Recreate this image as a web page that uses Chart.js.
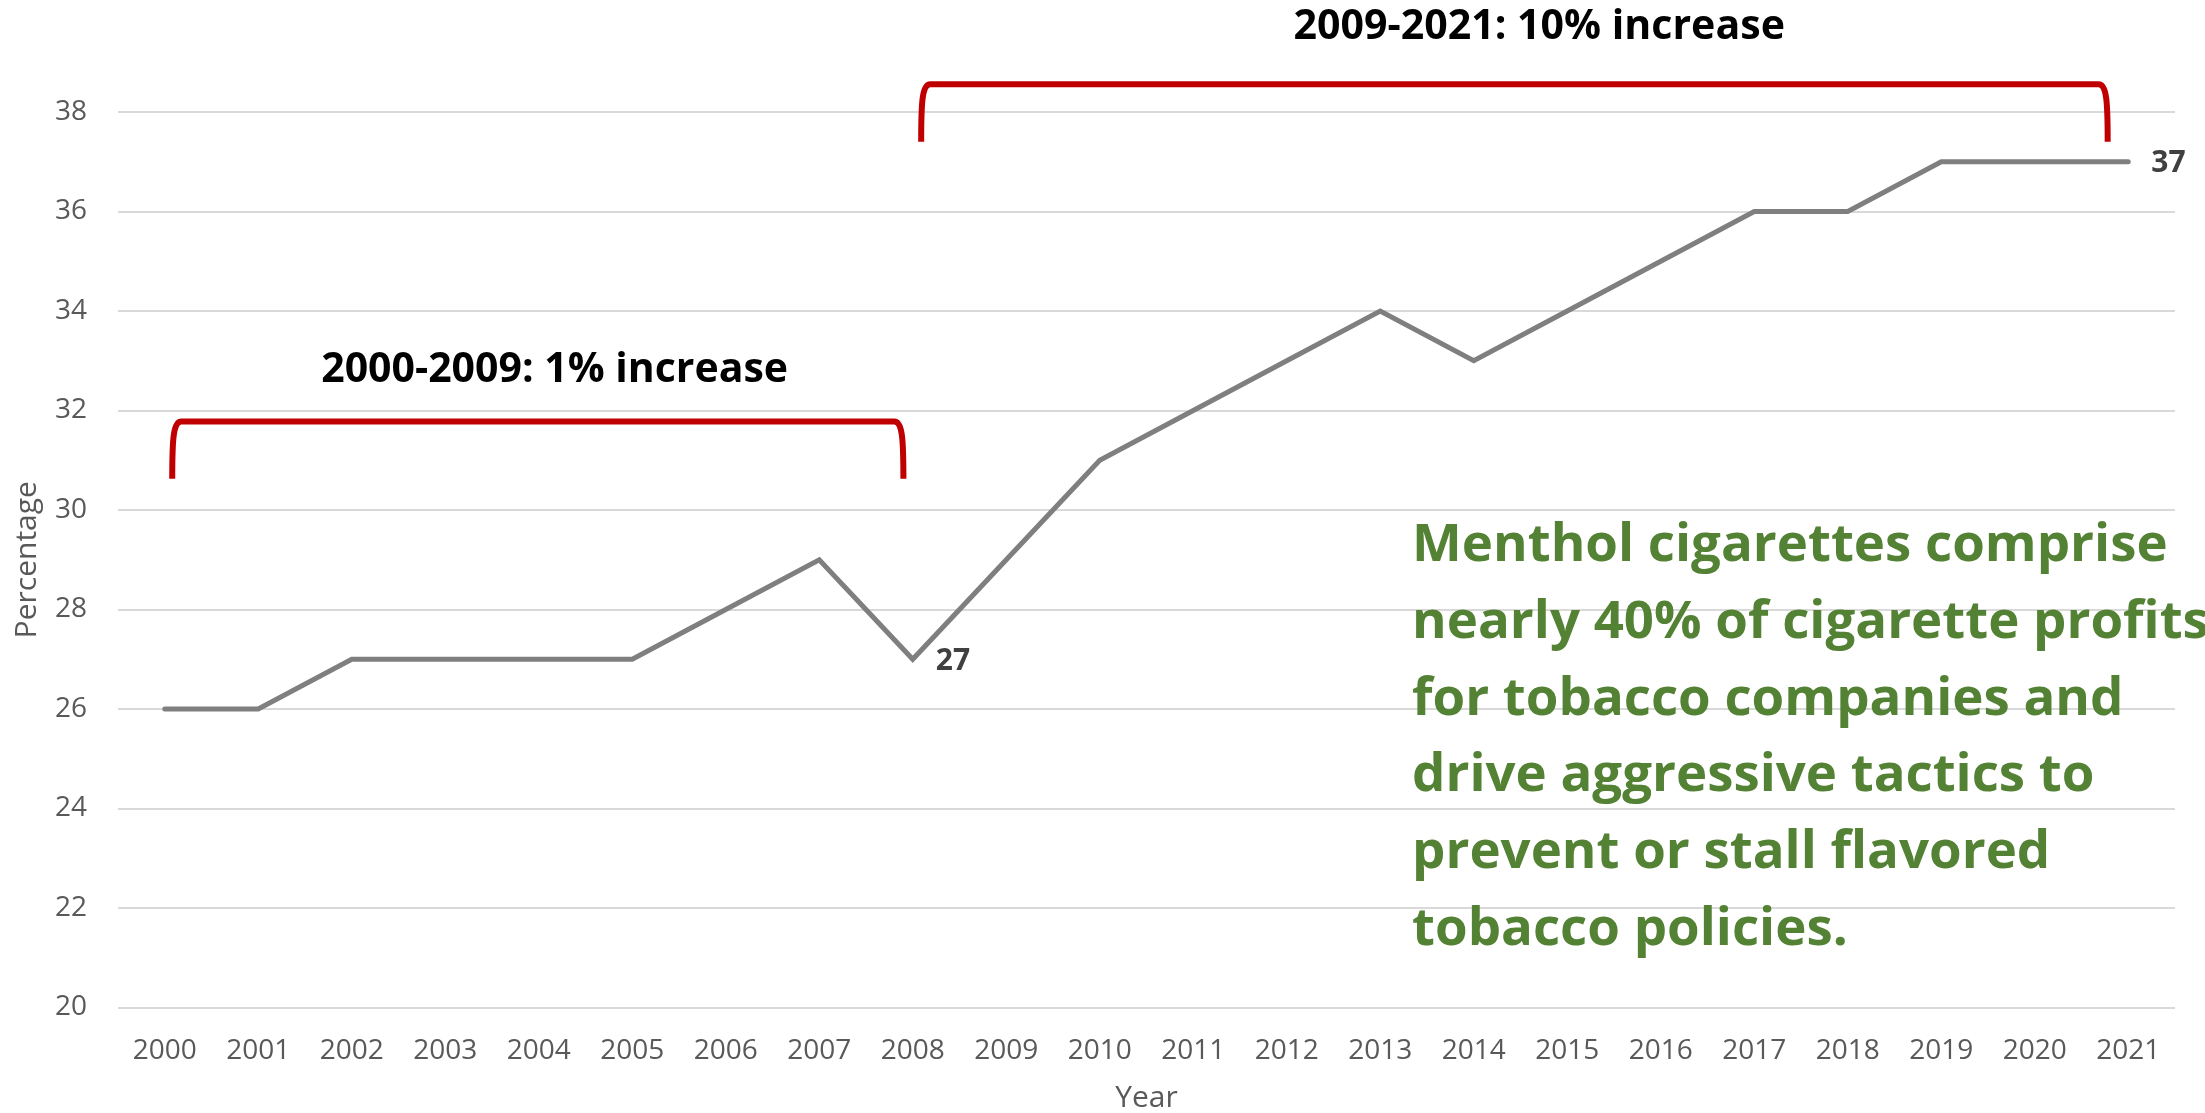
<!DOCTYPE html>
<html>
<head>
<meta charset="utf-8">
<script src="https://cdn.jsdelivr.net/npm/chart.js@4.4.1/dist/chart.umd.min.js"></script>
<style>
	html, body { margin: 0; padding: 0; background: #ffffff; }
	#wrap { width: 2205px; height: 1113px; position: relative; }
</style>
</head>
<body>
<div id="wrap"><canvas id="mycanvas"></canvas></div>
<script>
// data
var years = ["2000","2001","2002","2003","2004","2005","2006","2007","2008","2009","2010",
	"2011","2012","2013","2014","2015","2016","2017","2018","2019","2020","2021"];
var menthol = [26, 26, 27, 27, 27, 27, 28, 29, 27, 29, 31, 32, 33, 34, 33, 34, 35, 36, 36, 37, 37, 37];
var labelledPoints = [8, 21];
var yTicks = [20, 22, 24, 26, 28, 30, 32, 34, 36, 38];

var bracketTexts = ["2000-2009: 1% increase", "2009-2021: 10% increase"];
var noteLines = [
	"Menthol cigarettes comprise",
	"nearly 40% of cigarette profits",
	"for tobacco companies and",
	"drive aggressive tactics to",
	"prevent or stall flavored",
	"tobacco policies."
];

var FONT = "'Open Sans', 'Noto Sans', sans-serif";

// brackets placed in axis units (category index / percentage)
var brackets = [
	{ from: 0.08, to: 7.9, top: 31.78, bottom: 30.63, textX: 4.17, textY: 32.8, textW: 467, text: bracketTexts[0] },
	{ from: 8.09, to: 20.78, top: 38.56, bottom: 37.4, textX: 14.7, textY: 39.7, textW: 492, text: bracketTexts[1] }
];

function fitSize(ctx, text, weight, width) {
	ctx.font = weight + " 100px " + FONT;
	return 100 * width / ctx.measureText(text).width;
}

var annotate = {
	id: 'annotate',
	afterDatasetsDraw: function(chart) {
		var ctx = chart.ctx;
		var x = chart.scales.x, y = chart.scales.y;
		var meta = chart.getDatasetMeta(0);

		ctx.save();
		// point labels
		ctx.fillStyle = "#404040";
		ctx.font = "bold 30px " + FONT;
		ctx.textAlign = "left";
		ctx.textBaseline = "middle";
		labelledPoints.forEach(function(i) {
			var p = meta.data[i];
			ctx.fillText(String(menthol[i]), p.x + 23, p.y + 2);
		});

		// red brackets
		ctx.strokeStyle = "#c00000";
		ctx.lineWidth = 6;
		ctx.lineCap = "butt";
		ctx.lineJoin = "round";
		brackets.forEach(function(b) {
			var x1 = x.getPixelForValue(b.from), x2 = x.getPixelForValue(b.to);
			var yt = y.getPixelForValue(b.top), yb = y.getPixelForValue(b.bottom);
			var r = 9;
			ctx.beginPath();
			ctx.moveTo(x1, yb);
			ctx.bezierCurveTo(x1, yt + r * 2, x1 + 1, yt, x1 + r, yt);
			ctx.lineTo(x2 - r, yt);
			ctx.bezierCurveTo(x2 - 1, yt, x2, yt + r * 2, x2, yb);
			ctx.stroke();

			var size = fitSize(ctx, b.text, "bold", b.textW);
			ctx.font = "bold " + size.toFixed(1) + "px " + FONT;
			ctx.fillStyle = "#000000";
			ctx.textAlign = "center";
			ctx.textBaseline = "middle";
			ctx.fillText(b.text, x.getPixelForValue(b.textX), y.getPixelForValue(b.textY));
		});

		// green note
		var noteSize = fitSize(ctx, noteLines[0], "bold", 755);
		ctx.font = "bold " + noteSize.toFixed(1) + "px " + FONT;
		ctx.fillStyle = "#548235";
		ctx.textAlign = "left";
		ctx.textBaseline = "alphabetic";
		var nx = x.getPixelForValue(13.34);
		var ny = y.getPixelForValue(28.97);
		noteLines.forEach(function(line, i) {
			ctx.fillText(line, nx, ny + i * 76.7);
		});
		ctx.restore();
	}
};

var ctx = document.getElementById("mycanvas");

var LineGraph = new Chart(ctx, {
	type: 'line',
	data: {
		labels: years,
		datasets: [
			{
				label: "Menthol share",
				data: menthol,
				fill: false,
				tension: 0,
				borderColor: "#7f7f7f",
				borderWidth: 5,
				borderCapStyle: "round",
				borderJoinStyle: "miter",
				pointRadius: 0,
				pointHoverRadius: 0
			}
		]
	},
	options: {
		responsive: true,
		maintainAspectRatio: false,
		animation: false,
		layout: { padding: { top: 112, right: 30, left: 0, bottom: 0 } },
		plugins: {
			legend: { display: false },
			tooltip: { enabled: false }
		},
		scales: {
			x: {
				offset: true,
				grid: { display: false, drawTicks: false },
				border: { display: false },
				ticks: {
					color: "#595959",
					font: { family: FONT, size: 28 },
					padding: 27,
					maxRotation: 0,
					autoSkip: false
				},
				title: {
					display: true,
					text: "Year",
					color: "#595959",
					font: { family: FONT, size: 30 },
					padding: { top: 0, bottom: -3 }
				},
				afterFit: function(scale) { scale.height = 105.5; }
			},
			y: {
				min: 20,
				max: 38,
				afterBuildTicks: function(scale) {
					scale.ticks = yTicks.map(function(v) { return { value: v }; });
				},
				grid: { color: "#d9d9d9", lineWidth: 2, drawTicks: false },
				border: { display: false },
				ticks: {
					color: "#595959",
					font: { family: FONT, size: 28 },
					padding: 31
				},
				title: {
					display: true,
					text: "Percentage",
					color: "#595959",
					font: { family: FONT, size: 30 },
					padding: { top: 9, bottom: 0 }
				},
				afterFit: function(scale) { scale.width = 118; }
			}
		}
	},
	plugins: [annotate]
});
</script>
</body>
</html>
